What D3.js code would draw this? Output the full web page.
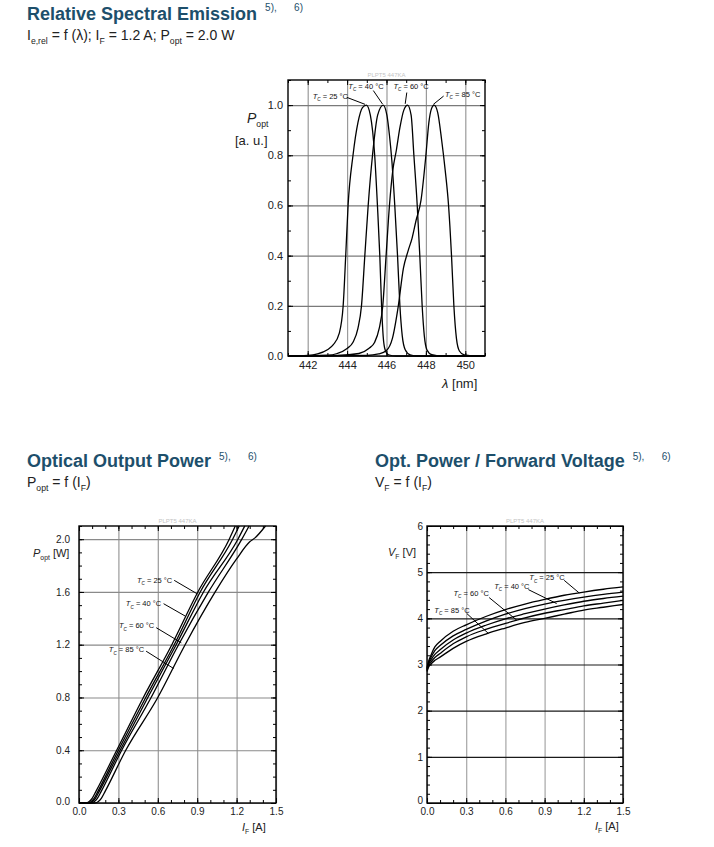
<!DOCTYPE html>
<html>
<head>
<meta charset="utf-8">
<script src="https://cdn.jsdelivr.net/npm/d3@7"></script>
<style>
  body { margin: 0; background: #fff; }
  svg { display: block; }
  text { font-family: "Liberation Sans", Arial, sans-serif; }
</style>
</head>
<body>
<svg id="page" width="714" height="847"></svg>
<script>
// ---- relative spectral emission, [lambda nm, relative power] ----
const specTemps = ["25", "40", "60", "85"];
const spec25 = [[441,0],[442,0.002],[442.5,0.008],[443,0.025],[443.3,0.045],[443.6,0.09],[443.8,0.2],[443.93,0.4],[444.05,0.6],[444.3,0.8],[444.55,0.93],[444.78,0.99],[444.98,1.0],[445.18,0.96],[445.4,0.8],[445.54,0.6],[445.66,0.4],[445.75,0.2],[445.83,0.08],[445.93,0.025],[446.1,0.005],[446.5,0],[451,0]];
const spec40 = [[441,0],[443,0.003],[443.5,0.01],[444,0.03],[444.3,0.055],[444.55,0.11],[444.73,0.2],[444.9,0.4],[445.07,0.6],[445.29,0.8],[445.55,0.96],[445.83,1.0],[446.02,0.96],[446.15,0.88],[446.27,0.78],[446.42,0.6],[446.56,0.4],[446.68,0.2],[446.8,0.08],[446.95,0.025],[447.2,0.005],[447.6,0],[451,0]];
const spec60 = [[441,0],[443.5,0.002],[444.6,0.01],[445.1,0.03],[445.4,0.055],[445.63,0.11],[445.81,0.2],[445.98,0.4],[446.15,0.6],[446.32,0.74],[446.5,0.82],[446.68,0.91],[446.88,0.98],[447.07,1.0],[447.25,0.96],[447.39,0.8],[447.56,0.6],[447.69,0.4],[447.81,0.2],[447.92,0.08],[448.05,0.025],[448.3,0.005],[448.8,0],[451,0]];
const spec85 = [[441,0],[445,0.002],[445.6,0.008],[446,0.022],[446.3,0.07],[446.6,0.2],[446.86,0.35],[447.1,0.42],[447.3,0.47],[447.5,0.54],[447.75,0.62],[448,0.8],[448.15,0.93],[448.28,0.985],[448.42,1.0],[448.6,0.97],[448.8,0.86],[448.98,0.74],[449.15,0.6],[449.3,0.4],[449.42,0.2],[449.55,0.07],[449.7,0.02],[449.95,0.004],[450.5,0],[451,0]];
const specXTicks = [442, 444, 446, 448, 450];
const specYTicks = [0, 0.2, 0.4, 0.6, 0.8, 1.0];

// ---- optical output power, [I_F A, P_opt W] (5 curves, 4 labelled) ----
const popA = [[0,0],[0.05,0],[0.075,0.01],[0.1,0.035],[0.13,0.09],[0.287,0.4],[0.49,0.8],[0.707,1.2],[0.905,1.6],[1.144,2.0],[1.19,2.1]];
const popB = [[0,0],[0.065,0],[0.09,0.01],[0.115,0.035],[0.145,0.09],[0.30,0.4],[0.508,0.8],[0.725,1.2],[0.923,1.6],[1.17,2.0],[1.22,2.1]];
const popC = [[0,0],[0.075,0],[0.1,0.01],[0.125,0.035],[0.155,0.09],[0.313,0.4],[0.524,0.8],[0.74,1.2],[0.948,1.6],[1.21,2.0],[1.262,2.1]];
const popD = [[0,0],[0.09,0],[0.115,0.01],[0.14,0.035],[0.17,0.09],[0.325,0.4],[0.549,0.8],[0.758,1.2],[0.986,1.6],[1.24,2.0],[1.295,2.1]];
const popE = [[0,0],[0.12,0],[0.145,0.01],[0.17,0.035],[0.2,0.09],[0.356,0.4],[0.60,0.8],[0.808,1.2],[1.037,1.6],[1.2,1.85],[1.3,1.98],[1.34,2.01],[1.42,2.1]];
const popXTicks = [0, 0.3, 0.6, 0.9, 1.2, 1.5];
const popYTicks = [0, 0.4, 0.8, 1.2, 1.6, 2.0];

// ---- forward voltage, [I_F A, V_F V] ----
const vfA = [[0,2.93],[0.01,3.05],[0.03,3.2],[0.06,3.38],[0.1,3.5],[0.2,3.72],[0.3,3.86],[0.45,4.04],[0.6,4.19],[0.75,4.31],[0.9,4.41],[1.05,4.5],[1.2,4.57],[1.35,4.63],[1.5,4.68]];
const vfB = [[0,2.91],[0.01,3.02],[0.03,3.15],[0.06,3.3],[0.1,3.41],[0.2,3.62],[0.3,3.76],[0.45,3.94],[0.6,4.09],[0.75,4.21],[0.9,4.31],[1.05,4.39],[1.2,4.46],[1.35,4.52],[1.5,4.57]];
const vfC = [[0,2.89],[0.01,2.99],[0.03,3.1],[0.06,3.22],[0.1,3.32],[0.2,3.53],[0.3,3.68],[0.45,3.85],[0.6,3.99],[0.75,4.1],[0.9,4.2],[1.05,4.29],[1.2,4.37],[1.35,4.43],[1.5,4.48]];
const vfD = [[0,2.87],[0.01,2.96],[0.03,3.05],[0.06,3.15],[0.1,3.24],[0.2,3.45],[0.3,3.6],[0.45,3.76],[0.6,3.89],[0.75,4.01],[0.9,4.11],[1.05,4.19],[1.2,4.27],[1.35,4.33],[1.5,4.39]];
const vfE = [[0,2.85],[0.01,2.93],[0.03,3.01],[0.06,3.09],[0.1,3.16],[0.2,3.35],[0.3,3.5],[0.45,3.66],[0.6,3.79],[0.75,3.91],[0.9,4.0],[1.05,4.09],[1.2,4.18],[1.35,4.24],[1.5,4.3]];
const vfXTicks = [0, 0.3, 0.6, 0.9, 1.2, 1.5];
const vfYTicks = [0, 1, 2, 3, 4, 5, 6];

const TITLE = "#1d4f6b";
const svg = d3.select("#page");

// text with italic / subscript parts: [string, kind]  kind: "", "i", "sub", "isub"
function rich(sel, parts, size) {
  let down = false;
  parts.forEach(([s, k]) => {
    const sub = k.includes("sub");
    const t = sel.append("tspan").text(s).attr("font-size", sub ? size * 0.62 : size);
    if (sub && !down) { t.attr("dy", size * 0.28); down = true; }
    else if (!sub && down) { t.attr("dy", -size * 0.28); down = false; }
    if (k === "i" || k === "isub") t.attr("font-style", "italic");
  });
  return sel;
}

function heading(x, y, title, supY, subParts) {
  const t = svg.append("text").attr("x", x).attr("y", y)
    .attr("font-size", 18).attr("font-weight", "bold").attr("fill", TITLE).text(title);
  const end = x + t.node().getComputedTextLength();
  svg.append("text").attr("x", end + 8).attr("y", supY).attr("font-size", 10).attr("fill", TITLE).text("5),");
  svg.append("text").attr("x", end + 37).attr("y", supY).attr("font-size", 10).attr("fill", TITLE).text("6)");
  rich(svg.append("text").attr("x", x).attr("y", y + 20).attr("fill", "#222"), subParts, 14);
}

function panel(o) {
  const g = svg.append("g");
  const x = d3.scaleLinear().domain(o.xDomain).range([o.left, o.right]);
  const y = d3.scaleLinear().domain(o.yDomain).range([o.bottom, o.top]);
  const H = o.bottom - o.top, W = o.right - o.left;

  // grid
  g.append("g").attr("transform", `translate(0,${o.bottom})`)
    .call(d3.axisBottom(x).tickValues(o.xTicks).tickSize(-H).tickFormat(""))
    .call(s => s.select(".domain").remove())
    .selectAll("line").attr("stroke", o.vGrid).attr("stroke-width", 1.2);
  g.append("g").attr("transform", `translate(${o.left},0)`)
    .call(d3.axisLeft(y).tickValues(o.yTicks).tickSize(-W).tickFormat(""))
    .call(s => s.select(".domain").remove())
    .selectAll("line").attr("stroke", o.hGrid).attr("stroke-width", 1.2);

  // inward ticks on all four sides
  const sides = [
    [d3.axisBottom(x), `translate(0,${o.bottom})`, o.xMinor, o.xTicks],
    [d3.axisTop(x), `translate(0,${o.top})`, o.xMinor, o.xTicks],
    [d3.axisLeft(y), `translate(${o.left},0)`, o.yMinor, o.yTicks],
    [d3.axisRight(y), `translate(${o.right},0)`, o.yMinor, o.yTicks]
  ];
  sides.forEach(([ax, tr, minor, major]) => {
    g.append("g").attr("transform", tr)
      .call(ax.tickValues(minor).tickSize(-3).tickFormat(""))
      .call(s => s.select(".domain").remove())
      .selectAll("line").attr("stroke", "#000");
    g.append("g").attr("transform", tr)
      .call(ax.tickValues(major).tickSize(-5).tickFormat(""))
      .call(s => s.select(".domain").remove())
      .selectAll("line").attr("stroke", "#000");
  });

  // curves
  const line = d3.line().x(d => x(d[0])).y(d => y(d[1])).curve(d3.curveMonotoneX);
  g.append("g").selectAll("path").data(o.series).join("path")
    .attr("d", line).attr("fill", "none").attr("stroke", "#000").attr("stroke-width", 1.3);

  // frame
  g.append("rect").attr("x", o.left).attr("y", o.top).attr("width", W).attr("height", H)
    .attr("fill", "none").attr("stroke", "#000").attr("stroke-width", 1.4);

  // tick labels
  const xl = g.append("g").attr("transform", `translate(0,${o.bottom})`)
    .call(d3.axisBottom(x).tickValues(o.xTicks).tickSize(0).tickPadding(o.xPad).tickFormat(o.xFmt));
  xl.select(".domain").remove();
  xl.selectAll("text").attr("font-size", o.fs).attr("fill", "#222").attr("font-family", null);
  const yl = g.append("g").attr("transform", `translate(${o.left},0)`)
    .call(d3.axisLeft(y).tickValues(o.yTicks).tickSize(0).tickPadding(o.yPad).tickFormat(o.yFmt));
  yl.select(".domain").remove();
  yl.selectAll("text").attr("font-size", o.fs).attr("fill", "#222").attr("font-family", null)
    .attr("dy", d => d === o.yDomain[0] ? (o.zeroDy || "0.32em") : "0.32em");

  // watermark
  g.append("text").attr("x", (o.left + o.right) / 2).attr("y", o.top - 3)
    .attr("text-anchor", "middle").attr("font-size", 6).attr("fill", "#c4c4c4").text("PLPT5 447KA");

  // temperature labels with leader lines
  o.notes.forEach(n => {
    g.append("line").attr("x1", x(n.from[0])).attr("y1", y(n.from[1]))
      .attr("x2", x(n.to[0])).attr("y2", y(n.to[1])).attr("stroke", "#000").attr("stroke-width", 1);
    rich(g.append("text").attr("x", x(n.at[0])).attr("y", y(n.at[1]))
      .attr("text-anchor", o.noteAnchor).attr("fill", "#111"),
      [["T", "i"], ["C", "isub"], [" = " + n.t + " °C", ""]], 7.5);
  });
  return { x, y };
}

const f1 = d3.format(".1f");

// ---------------- top: spectral emission ----------------
heading(27, 20, "Relative Spectral Emission", 11,
  [["I", ""], ["e,rel", "sub"], [" = f (λ); I", ""], ["F", "sub"], [" = 1.2 A; P", ""], ["opt", "sub"], [" = 2.0 W", ""]]);

panel({
  left: 288, right: 485, top: 80, bottom: 356,
  xDomain: [441, 451], yDomain: [0, 1.1],
  xTicks: specXTicks, yTicks: specYTicks,
  xMinor: d3.range(441, 451.5, 1), yMinor: d3.range(0, 1.15, 0.1),
  xFmt: d => d, yFmt: f1, fs: 11, xPad: 5, yPad: 5,
  vGrid: "#9a9a9a", hGrid: "#7a7a7a",
  series: [spec25, spec40, spec60, spec85],
  noteAnchor: "start",
  notes: [
    { t: specTemps[0], at: [442.25, 1.023], from: [443.98, 1.031], to: [444.91, 1.003] },
    { t: specTemps[1], at: [444.06, 1.064], from: [445.33, 1.058], to: [445.8, 1.004] },
    { t: specTemps[2], at: [446.35, 1.064], from: [447.03, 1.05], to: [446.95, 1.005] },
    { t: specTemps[3], at: [448.97, 1.032], from: [448.9, 1.036], to: [448.38, 1.003] }
  ]
});
rich(svg.append("text").attr("x", 247).attr("y", 123).attr("fill", "#222"), [["P", "i"], ["opt", "sub"]], 14);
svg.append("text").attr("x", 235).attr("y", 145).attr("font-size", 13).attr("fill", "#222").text("[a. u.]");
rich(svg.append("text").attr("x", 442).attr("y", 388).attr("fill", "#222"), [["λ", "i"], [" [nm]", ""]], 13);

// ---------------- bottom left: optical output power ----------------
heading(27, 467, "Optical Output Power", 460, [["P", ""], ["opt", "sub"], [" = f (I", ""], ["F", "sub"], [")", ""]]);

panel({
  left: 79, right: 276, top: 526, bottom: 803,
  xDomain: [0, 1.5], yDomain: [0, 2.1],
  xTicks: popXTicks, yTicks: popYTicks,
  xMinor: d3.range(0, 1.55, 0.1), yMinor: d3.range(0, 2.15, 0.1),
  xFmt: f1, yFmt: f1, fs: 10, xPad: 5, yPad: 9, zeroDy: "0.1em",
  vGrid: "#9a9a9a", hGrid: "#8a8a8a",
  series: [popA, popB, popC, popD, popE],
  noteAnchor: "end",
  notes: [
    { t: "25", at: [0.71, 1.669], from: [0.725, 1.688], to: [0.898, 1.587] },
    { t: "40", at: [0.626, 1.49], from: [0.644, 1.511], to: [0.809, 1.417] },
    { t: "60", at: [0.573, 1.323], from: [0.588, 1.329], to: [0.779, 1.215] },
    { t: "85", at: [0.496, 1.141], from: [0.511, 1.151], to: [0.72, 1.02] }
  ]
});
rich(svg.append("text").attr("x", 33).attr("y", 557).attr("fill", "#222"), [["P", "i"], ["opt", "sub"], [" [W]", ""]], 11);
rich(svg.append("text").attr("x", 242).attr("y", 831).attr("fill", "#222"), [["I", "i"], ["F", "sub"], [" [A]", ""]], 11);

// ---------------- bottom right: forward voltage ----------------
heading(375, 467, "Opt. Power / Forward Voltage", 460, [["V", ""], ["F", "sub"], [" = f (I", ""], ["F", "sub"], [")", ""]]);

panel({
  left: 427, right: 623, top: 526, bottom: 803,
  xDomain: [0, 1.5], yDomain: [0, 6],
  xTicks: vfXTicks, yTicks: vfYTicks,
  xMinor: d3.range(0, 1.55, 0.1), yMinor: d3.range(0, 6.1, 0.2),
  xFmt: f1, yFmt: d => d, fs: 10, xPad: 5, yPad: 4, zeroDy: "0.05em",
  vGrid: "#a6a6a6", hGrid: "#1a1a1a",
  series: [vfA, vfB, vfC, vfD, vfE],
  noteAnchor: "start",
  notes: [
    { t: "25", at: [0.783, 4.82], from: [1.05, 4.823], to: [1.165, 4.549] },
    { t: "40", at: [0.514, 4.628], from: [0.776, 4.622], to: [0.992, 4.32] },
    { t: "60", at: [0.203, 4.477], from: [0.476, 4.449], to: [0.687, 3.96] },
    { t: "85", at: [0.056, 4.11], from: [0.305, 4.104], to: [0.47, 3.672] }
  ]
});
rich(svg.append("text").attr("x", 388).attr("y", 556).attr("fill", "#222"), [["V", "i"], ["F", "sub"], [" [V]", ""]], 11);
rich(svg.append("text").attr("x", 595).attr("y", 830).attr("fill", "#222"), [["I", "i"], ["F", "sub"], [" [A]", ""]], 11);
</script>
</body>
</html>
